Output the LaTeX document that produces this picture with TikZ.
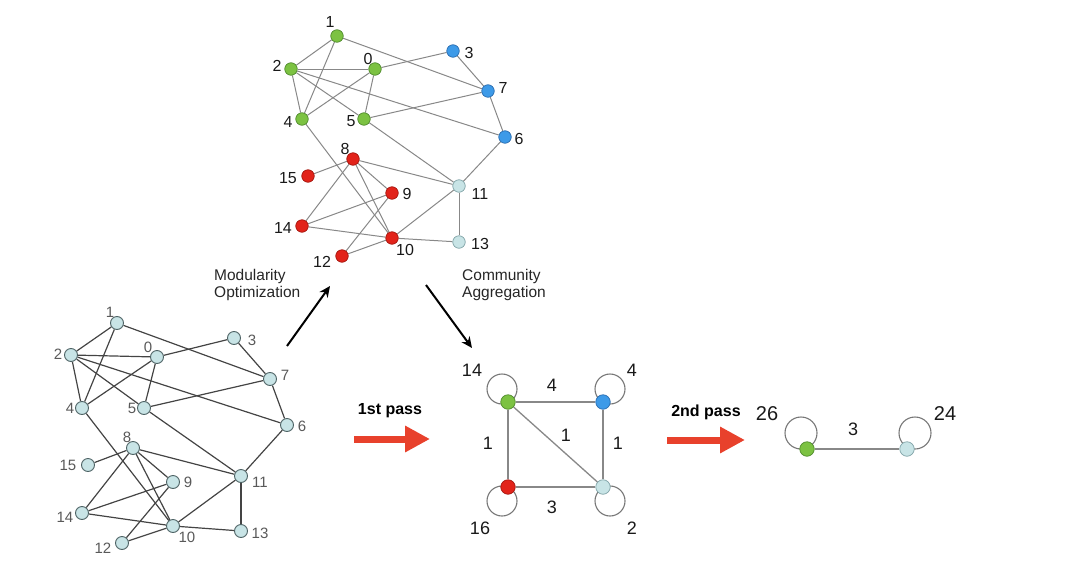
\documentclass[tikz,border=0pt]{standalone}
\usepackage{fontspec}
\setmainfont{Liberation Sans}
\usetikzlibrary{arrows.meta,backgrounds}
\definecolor{cgreen}{HTML}{7CC242}
\definecolor{cgreenb}{HTML}{4F8A2C}
\definecolor{cblue}{HTML}{3D9AE8}
\definecolor{cblueb}{HTML}{2A6BAE}
\definecolor{cred}{HTML}{E2231A}
\definecolor{credb}{HTML}{A3170F}
\definecolor{ccyan}{HTML}{C8E4E6}
\definecolor{ccyanb}{HTML}{7FA2A6}
\definecolor{ccyand}{HTML}{4F6466}
\definecolor{tedgec}{HTML}{888888}
\definecolor{bedgec}{HTML}{444444}
\definecolor{arrred}{HTML}{E8412C}
\definecolor{loopc}{HTML}{777777}
\begin{document}
\begin{tikzpicture}[x=1pt,y=-1pt,
  vt/.style={circle,draw=#1b,fill=#1,minimum size=12.5pt,inner sep=0pt,line width=0.7pt},
  vb/.style={circle,draw=ccyand,fill=ccyan,minimum size=13pt,inner sep=0pt,line width=0.9pt},
  vs/.style={circle,draw=#1b,fill=#1,minimum size=14.5pt,inner sep=0pt,line width=0.7pt},
  tedge/.style={draw=tedgec,line width=1pt},
  bedge/.style={draw=bedgec,line width=1.2pt},
  sedge/.style={draw=tedgec,line width=1.3pt},
  loopline/.style={draw=loopc,line width=1.1pt},
  tlbl/.style={inner sep=0pt,font=\fontsize{16}{18}\selectfont,text=black!90},
  blbl/.style={inner sep=0pt,font=\fontsize{15}{17}\selectfont,text=black!65},
  slbl/.style={inner sep=0pt,font=\fontsize{18}{20}\selectfont,text=black!90},
  flbl/.style={inner sep=0pt,font=\fontsize{20}{22}\selectfont,text=black!90},
  captext/.style={inner sep=0pt,align=left,font=\fontsize{15.5}{17}\selectfont,text=black!85},
  passtext/.style={inner sep=0pt,font=\bfseries\fontsize{16}{18}\selectfont,text=black},
  blackarrow/.style={draw=black,line width=2pt,-{Stealth[length=11pt,width=10pt]}},
  redarrow/.style={draw=arrred,line width=7pt,-{Triangle[length=25pt,width=25pt]}}
]
\useasboundingbox (0,0) rectangle (1080,576);

% ---------------- top graph ----------------
\foreach \n/\x/\y/\c in {1/337/36/cgreen, 2/291/69/cgreen, 0/375/69/cgreen, 3/453/51/cblue,
  7/488/91/cblue, 4/302/119/cgreen, 5/364/119/cgreen, 6/505/137/cblue, 8/353/159/cred,
  15/308/176/cred, 9/392/193/cred, 11/459/186/ccyan, 14/302/226/cred, 10/392/238/cred,
  13/459/242/ccyan, 12/342/256/cred}
  \node[vt=\c] (t\n) at (\x,\y) {};
\begin{scope}[on background layer]
\foreach \a/\b in {1/2,1/4,1/7,2/0,2/4,2/5,2/6,0/4,0/5,0/3,3/7,7/5,7/6,4/10,5/11,6/11,
  8/15,8/14,8/9,8/10,8/11,9/14,9/12,14/10,10/12,10/11,10/13,11/13}
  \draw[tedge] (t\a) -- (t\b);
\end{scope}
\foreach \n/\dx/\dy in {1/-7/-14, 2/-14/-3, 0/-7/-10, 3/16/2, 7/15/-3, 4/-14/3, 5/-13/2,
  6/14/2, 8/-8/-10, 15/-20/2, 9/15/1, 11/21/8, 14/-19/2, 10/13/12, 13/21/2, 12/-20/6}
  \node[tlbl] (tl\n) at ([shift={(\dx,\dy)}]t\n.center) {\n};

% ---------------- bottom-left graph ----------------
\foreach \n/\x/\y in {1/117/323, 2/71/355, 0/157/357, 3/234/338, 7/270/379, 4/82/408,
  5/144/408, 6/287/425, 8/133/448, 15/88/465, 9/173/482, 11/241/476, 14/82/513,
  10/173/526, 13/241/531, 12/122/543}
  \node[vb] (b\n) at (\x,\y) {};
\begin{scope}[on background layer]
\foreach \a/\b in {1/2,1/4,1/7,2/0,2/4,2/5,2/6,0/4,0/5,0/3,3/7,7/5,7/6,4/10,5/11,6/11,
  8/15,8/14,8/9,8/10,8/11,9/14,9/12,14/10,10/12,10/11,10/13,11/13}
  \draw[bedge] (b\a) -- (b\b);
\end{scope}
\foreach \n/\dx/\dy in {1/-7/-11, 2/-13/-1, 0/-9/-10, 3/18/2, 7/15/-4, 4/-12/0, 5/-12/0,
  6/15/1, 8/-6/-11, 15/-20/0, 9/15/0, 11/19/6, 14/-17/4, 10/14/11, 13/19/2, 12/-19/5}
  \node[blbl] (bl\n) at ([shift={(\dx,\dy)}]b\n.center) {\n};

% ---------------- captions and arrows ----------------
\node[captext,anchor=west] (modtxt) at (214,284.5) {Modularity\\Optimization};
\node[captext,anchor=west] (comtxt) at (462,284.5) {Community\\Aggregation};
\coordinate (ma1) at (287,346);
\coordinate (ma2) at (330,286);
\draw[blackarrow] (ma1) -- (ma2);
\coordinate (ca1) at (426,285);
\coordinate (ca2) at (472,348);
\draw[blackarrow] (ca1) -- (ca2);

\node[passtext] (p1txt) at (390,411) {1st pass};
\coordinate (p1a) at (354,439);
\coordinate (p1b) at (430,439);
\draw[redarrow] (p1a) -- (p1b);
\node[passtext] (p2txt) at (706,412) {2nd pass};
\coordinate (p2a) at (667,440);
\coordinate (p2b) at (745,440);
\draw[redarrow] (p2a) -- (p2b);

% ---------------- aggregated square graph ----------------
\node[vs=cgreen] (sg) at (508,402) {};
\node[vs=cblue] (sb) at (603,402) {};
\node[vs=cred] (sr) at (508,487) {};
\node[vs=ccyan] (sc) at (603,487) {};
\begin{scope}[on background layer]
\draw[loopline] ([shift={(-6,-13)}]sg.center) circle[radius=15];
\draw[loopline] ([shift={(7,-13)}]sb.center) circle[radius=15];
\draw[loopline] ([shift={(-6,14)}]sr.center) circle[radius=15];
\draw[loopline] ([shift={(7,14)}]sc.center) circle[radius=15];
\draw[sedge] (sg) -- (sb);
\draw[sedge] (sg) -- (sr);
\draw[sedge] (sg) -- (sc);
\draw[sedge] (sb) -- (sc);
\draw[sedge] (sr) -- (sc);
\end{scope}
\node[slbl] (sl14) at (472,370) {14};
\node[slbl] (sl4) at (632,370) {4};
\node[slbl] (sl16) at (480,528) {16};
\node[slbl] (sl2) at (632,528) {2};
\node[slbl] (e1) at (552,385) {4};
\node[slbl] (e2) at (488,443) {1};
\node[slbl] (e3) at (566,435) {1};
\node[slbl] (e4) at (618,443) {1};
\node[slbl] (e5) at (552,507) {3};

% ---------------- final two-node graph ----------------
\node[vs=cgreen] (fg) at (807,449) {};
\node[vs=ccyan] (fc) at (907,449) {};
\begin{scope}[on background layer]
\draw[loopline] ([shift={(-6,-16)}]fg.center) circle[radius=16];
\draw[loopline] ([shift={(8,-16)}]fc.center) circle[radius=16];
\draw[sedge] (fg) -- (fc);
\end{scope}
\node[flbl] (fl26) at (767,414) {26};
\node[flbl] (fl24) at (945,414) {24};
\node[slbl] (fl3) at (853,429) {3};
\end{tikzpicture}
\end{document}
